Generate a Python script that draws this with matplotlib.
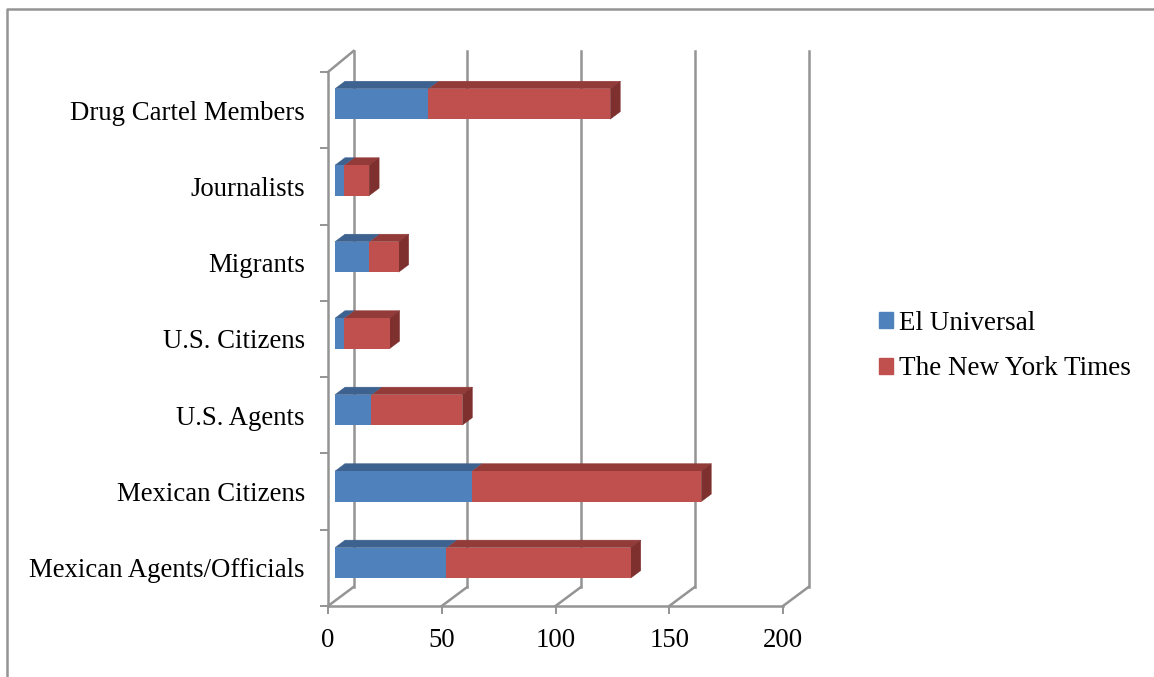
import matplotlib
matplotlib.use('Agg')
from matplotlib import pyplot as plt
from matplotlib.lines import Line2D
from matplotlib.patches import Rectangle

categories = ['Mexican Agents/Officials', 'Mexican Citizens', 'U.S. Agents',
              'U.S. Citizens', 'Migrants', 'Journalists', 'Drug Cartel Members']
el_universal = [49, 60, 16, 4, 15, 4, 41]
nyt = [81, 101, 40, 20, 13, 11, 80]
x_ticks = [0, 50, 100, 150, 200]

W, H = 1154, 677
GREY = '#949494'
BLUE, BLUE_TOP = '#4F81BD', '#3D628F'
RED, RED_TOP, RED_SIDE = '#C0504D', '#933B39', '#7E302E'

plt.rcParams['font.family'] = ['Liberation Serif', 'DejaVu Serif']

fig = plt.figure(figsize=(W / 100, H / 100), dpi=100, facecolor='white')
# plot box in pixels: x 328-783, y 72-606
ax = fig.add_axes([328 / W, 1 - 606 / H, 455 / W, 534 / H])
ax.set_xlim(0, 200)
ax.set_ylim(-0.5, 6.5)
ax.patch.set_visible(False)
for s in ax.spines.values():
    s.set_visible(False)

px_x = 200 / 455.0        # data units per pixel
px_y = 7 / 534.0

# depth of the back wall and of the bars, in pixels
wall_dx, wall_dy = 25.5, 19
bar_x0 = 7
bar_h = 30.5
depth_dx, depth_dy = 10, 7.5


def seg(xs, ys):
    ax.add_line(Line2D(xs, ys, color=GREY, lw=1.8, clip_on=False,
                       solid_capstyle='projecting', zorder=1))


# walls and gridlines
for t in x_ticks:
    xb = t + wall_dx * px_x
    seg([t, xb], [-0.5, -0.5 + wall_dy * px_y])
    seg([xb, xb], [-0.5 + wall_dy * px_y, 6.5 + 21 * px_y])
seg([0, 200], [-0.5, -0.5])
seg([0, 0], [-0.5, 6.5])
seg([0, wall_dx * px_x], [6.5, 6.5 + 21 * px_y])


def box(y, left, width, face, top, side=None):
    x0 = left + bar_x0 * px_x
    lift = 5 + 0.2 * y
    y0 = y + (lift - bar_h / 2) * px_y
    h = bar_h * px_y
    dx, dy = depth_dx * px_x, depth_dy * px_y
    ax.fill([x0, x0 + dx, x0 + width + dx, x0 + width],
            [y0 + h, y0 + h + dy, y0 + h + dy, y0 + h],
            color=top, lw=0.3, clip_on=False, zorder=3)
    if side is not None:
        ax.fill([x0 + width, x0 + width + dx, x0 + width + dx, x0 + width],
                [y0, y0 + dy, y0 + h + dy, y0 + h],
                color=side, lw=0.3, clip_on=False, zorder=3)
    ax.barh(y0 + h / 2, width, height=h, left=x0, color=face,
            lw=0, clip_on=False, zorder=4)


for i in range(len(categories)):
    box(i, el_universal[i], nyt[i], RED, RED_TOP, RED_SIDE)
    box(i, 0, el_universal[i], BLUE, BLUE_TOP)

ax.set_xticks(x_ticks)
ax.set_yticks([v - 0.5 for v in range(8)], minor=True)
ax.set_yticks(range(len(categories)))
ax.set_yticklabels(categories)
ax.tick_params(axis='y', which='major', length=0, pad=16.6, labelsize=19.3, colors='black')
ax.tick_params(axis='y', which='minor', length=5.5, width=1.4, color=GREY)
ax.tick_params(axis='x', length=5.5, width=1.4, color=GREY, labelsize=19.3, pad=10.5,
               labelcolor='black')

handles = [Rectangle((0, 0), 1, 1, color=BLUE), Rectangle((0, 0), 1, 1, color=RED)]
fig.legend(handles, ['El Universal', 'The New York Times'],
           loc='center left', bbox_to_anchor=(879 / W, 1 - 346 / H), frameon=False,
           fontsize=19.5, handlelength=0.52, handleheight=0.52, handletextpad=0.22,
           labelspacing=0.76, borderpad=0, borderaxespad=0)

# outer chart frame
fig.add_artist(Line2D([6.5 / W, 6.5 / W, 1], [0, 1 - 8.5 / H, 1 - 8.5 / H], color=GREY, lw=1.8))

plt.savefig('out.png', dpi=100)
